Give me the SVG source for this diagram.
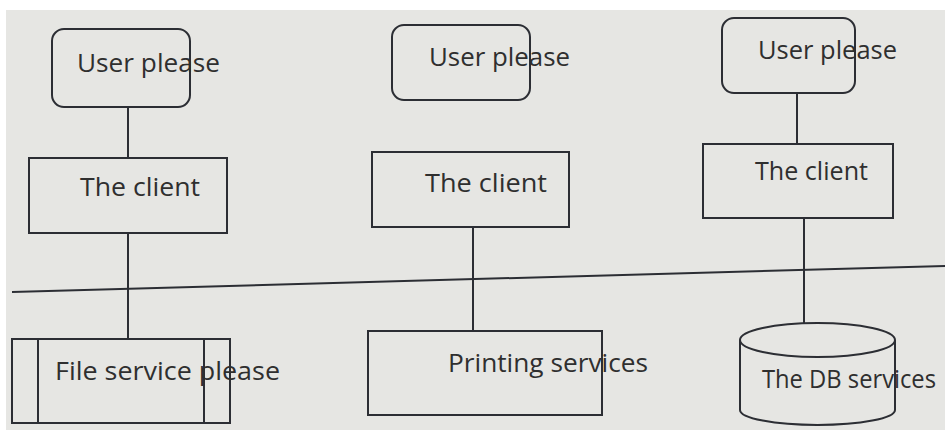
<svg xmlns="http://www.w3.org/2000/svg" width="945" height="430" viewBox="0 0 945 430">
  <style>
    .shape { fill: none; stroke: #2c2e34; stroke-width: 2; }
    .wire { fill: none; stroke: #2c2e34; stroke-width: 2; }
    .label { font-family: "Open Sans", "Noto Sans", sans-serif; font-size: 26px; fill: #2f2f2f; }
  </style>

  <!-- page -->
  <rect x="0" y="0" width="945" height="430" fill="#ffffff"/>
  <rect x="6" y="10" width="939" height="420" fill="#e6e6e3"/>

  <!-- connectors and the dividing line -->
  <g id="connectors">
    <line class="wire" x1="12" y1="292" x2="945" y2="266"/>
    <line class="wire" x1="128" y1="107" x2="128" y2="158"/>
    <line class="wire" x1="128" y1="233" x2="128" y2="339"/>
    <line class="wire" x1="473" y1="227" x2="473" y2="331"/>
    <line class="wire" x1="797" y1="93" x2="797" y2="144"/>
    <line class="wire" x1="804" y1="218" x2="804" y2="323"/>
  </g>

  <!-- left column -->
  <g id="user-left">
    <rect class="shape" x="52" y="29" width="138" height="78" rx="12"/>
    <text class="label" x="77" y="72" textLength="143" lengthAdjust="spacingAndGlyphs">User please</text>
  </g>
  <g id="client-left">
    <rect class="shape" x="29" y="158" width="198" height="75"/>
    <text class="label" x="80" y="196" textLength="120" lengthAdjust="spacingAndGlyphs">The client</text>
  </g>
  <g id="file-service">
    <rect class="shape" x="12" y="339" width="218" height="84"/>
    <line class="shape" x1="38" y1="339" x2="38" y2="423"/>
    <line class="shape" x1="204" y1="339" x2="204" y2="423"/>
    <text class="label" x="55" y="380" textLength="225" lengthAdjust="spacingAndGlyphs">File service please</text>
  </g>

  <!-- middle column -->
  <g id="user-middle">
    <rect class="shape" x="392" y="25" width="138" height="75" rx="12"/>
    <text class="label" x="429" y="66" textLength="141" lengthAdjust="spacingAndGlyphs">User please</text>
  </g>
  <g id="client-middle">
    <rect class="shape" x="372" y="152" width="197" height="75"/>
    <text class="label" x="425" y="192" textLength="122" lengthAdjust="spacingAndGlyphs">The client</text>
  </g>
  <g id="printing-service">
    <rect class="shape" x="368" y="331" width="234" height="84"/>
    <text class="label" x="448" y="372" textLength="200" lengthAdjust="spacingAndGlyphs">Printing services</text>
  </g>

  <!-- right column -->
  <g id="user-right">
    <rect class="shape" x="722" y="18" width="133" height="75" rx="12"/>
    <text class="label" x="758" y="59" textLength="139" lengthAdjust="spacingAndGlyphs">User please</text>
  </g>
  <g id="client-right">
    <rect class="shape" x="703" y="144" width="190" height="74"/>
    <text class="label" x="755" y="180" textLength="113" lengthAdjust="spacingAndGlyphs">The client</text>
  </g>
  <g id="db-service">
    <path class="shape" d="M740,340 L740,410 A77.5,15 0 0 0 895,410 L895,340"/>
    <ellipse class="shape" cx="817.5" cy="340" rx="77.5" ry="17"/>
    <text class="label" x="762" y="388" font-size="24" textLength="174" lengthAdjust="spacingAndGlyphs">The DB services</text>
  </g>
</svg>
